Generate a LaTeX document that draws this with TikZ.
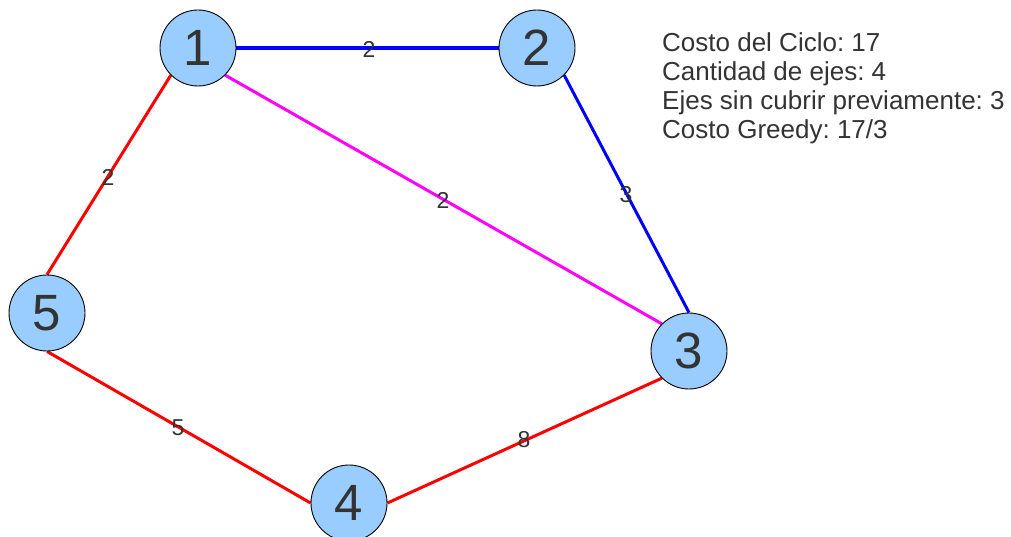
\documentclass[tikz,border=0pt]{standalone}
\usepackage{fontspec}
\setmainfont{Liberation Sans}
\usetikzlibrary{backgrounds}
\definecolor{txt}{HTML}{333333}
\definecolor{nfill}{HTML}{99CCFF}
\definecolor{eblue}{HTML}{0000FF}
\definecolor{ered}{HTML}{FF0000}
\definecolor{emag}{HTML}{FF00FF}
\begin{document}
\frenchspacing
\begin{tikzpicture}[x=1pt,y=-1pt,
  vert/.style={circle,draw=black,line width=0.9pt,fill=nfill,minimum size=76pt,inner sep=0pt,text=txt,font=\fontsize{51}{51}\selectfont},
  edge/.style={line width=3pt},
  wlab/.style={text=txt,font=\fontsize{23}{23}\selectfont,inner sep=0pt},
  info/.style={text=txt,font=\fontsize{26}{29}\selectfont,anchor=base west,inner sep=0pt}]
\useasboundingbox (0,0) rectangle (1011,537);
\node[vert] (n1) at (198,48) {1};
\node[vert] (n2) at (537,48) {2};
\node[vert] (n3) at (689,351) {3};
\node[vert] (n4) at (349,503) {4};
\node[vert] (n5) at (47,313) {5};
\begin{scope}[on background layer]
\draw[edge,eblue,line width=3.6pt] (n1.east) -- (n2.west);
\draw[edge,eblue] (n2.south east) -- (n3.north);
\draw[edge,emag] (n1.south east) -- (n3.north west);
\draw[edge,ered] (n1.south west) -- (n5.north);
\draw[edge,ered] (n5.south) -- (n4.west);
\draw[edge,ered] (n4.east) -- (n3.south west);
\end{scope}
\node[wlab] (w12) at (369,49) {2};
\node[wlab] (w23) at (626,195) {3};
\node[wlab] (w13) at (443,200) {2};
\node[wlab] (w15) at (108,177) {2};
\node[wlab] (w54) at (178,428) {5};
\node[wlab] (w43) at (524,440) {8};
\node[info] (i1) at (662,52) {Costo del Ciclo: 17};
\node[info] (i2) at (662,81) {Cantidad de ejes: 4};
\node[info] (i3) at (662,110) {Ejes sin cubrir previamente: 3};
\node[info] (i4) at (662,139) {Costo Greedy: 17/3};
\end{tikzpicture}
\end{document}
